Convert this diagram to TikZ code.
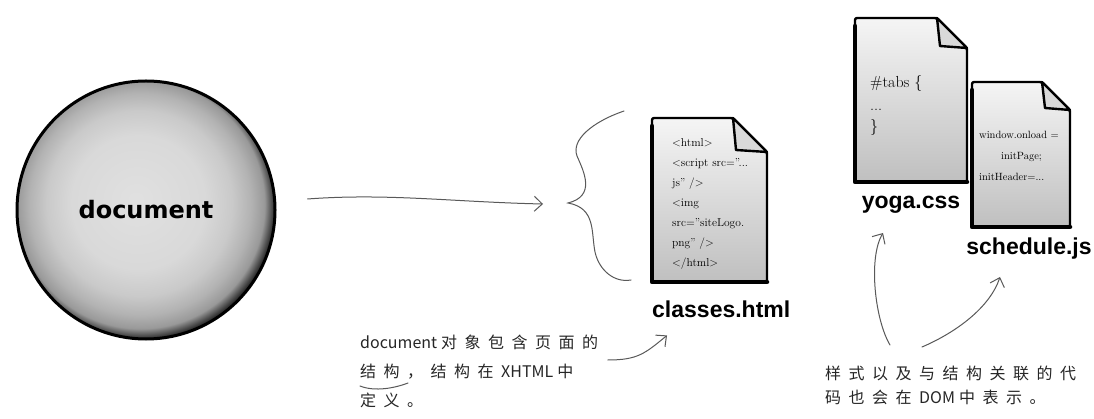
\documentclass[tikz,border=0pt]{standalone}
\usepackage{fontspec}
\usetikzlibrary{positioning,arrows.meta,shapes}
\newfontfamily\labelfont{Liberation Sans}
\newfontfamily\ballfont{DejaVu Sans}
\newfontfamily\hand{Noto Sans CJK SC}

% hand lettering: a fixed gap after every character
\newcommand{\spaced}[1]{\spacedstep#1\relax}
\def\spacedstep#1{\ifx#1\relax\else#1\kern7.5pt\expandafter\spacedstep\fi}

% grey ball, light in the middle and dark at the rim (rim sits at 25bp)
\pgfdeclareradialshading{ballshade}{\pgfpoint{-2bp}{2bp}}{color(0bp)=(gray!24); color(13bp)=(gray!30); color(18bp)=(gray!42); color(21.5bp)=(gray!60); color(24bp)=(gray!80); color(26bp)=(black!85); color(50bp)=(black!85)}

% page outline with dog-ear, #1 = node, #2 = size of the fold
\newcommand{\drawpage}[2]{%
  \path[pagebody] (#1.north west) -- ([xshift=-#2]#1.north east) -- ([yshift=-#2]#1.north east) -- (#1.south east) -- (#1.south west) -- cycle;
  \draw[pageedge] ([yshift=-8pt]#1.north west) -- (#1.south west) -- (#1.south east);
  \draw[pagefold] ([xshift=-#2]#1.north east) -- ([xshift=-#2+3pt,yshift=-#2+2pt]#1.north east) -- ([yshift=-#2]#1.north east) -- cycle;
}

\begin{document}
\begin{tikzpicture}[x=1pt, y=-1pt]
    \tikzset{
        ball/.style = {circle, minimum size=258pt, inner sep=0pt, draw=black, line width=3pt, shade, shading=ballshade, font=\ballfont\bfseries\fontsize{24}{28}\selectfont},
        page/.style = {rectangle, inner sep=0pt, outer sep=0pt},
        pagebody/.style = {draw=black, line width=2.4pt, line join=round, rounded corners=2pt, top color=gray!8, middle color=gray!18, bottom color=gray!50},
        pageedge/.style = {draw=black, line width=4.5pt, line cap=round, line join=round},
        pagefold/.style = {draw=black, line width=2.4pt, line join=round, fill=gray!30},
        code/.style = {align=left, inner sep=0pt, anchor=north west, text=black},
        filename/.style = {font=\labelfont\bfseries\fontsize{23}{26}\selectfont, inner sep=0pt},
        note/.style = {align=left, inner sep=0pt, anchor=north west, text=black!85},
        inkline/.style = {draw=black!65, line width=1pt, line cap=round},
        handarrow/.style = {inkline, -{Straight Barb[length=8pt,width=15pt]}},
    }
    \useasboundingbox[fill=white] (0,0) rectangle (1094,419);

    % the document object
    \node (ball) [ball] at (146,210) {document};

    % files
    \node (html) [page, minimum width=115pt, minimum height=164pt] at (709.5,200) {};
    \node (yoga) [page, minimum width=112pt, minimum height=164pt] at (911,100) {};
    \node (sched) [page, minimum width=98pt, minimum height=145pt] at (1021,154.5) {};
    \drawpage{html}{34pt}
    \drawpage{yoga}{30pt}
    \drawpage{sched}{28pt}

    \node (htmlcode) [code, font=\fontsize{11.5}{20}\selectfont] at ([shift={(20,20)}]html.north west)
        {<html>\\<script src="...\\js" />\\<img\\src="siteLogo.\\png" />\\</html>};
    \node (yogacode) [code, font=\fontsize{16}{27}\selectfont] at ([shift={(15,57)}]yoga.north west)
        {\#tabs \{\\[-4pt]...\\[-6pt]\}};
    \node (schedcode) [code, font=\fontsize{10.5}{21}\selectfont] at ([shift={(7,49)}]sched.north west)
        {window.onload =\\\hspace*{22pt}initPage;\\initHeader=...};

    \node (htmllbl) [filename, anchor=base west] at ([shift={(0,36)}]html.south west) {classes.html};
    \node (yogalbl) [filename, anchor=base] at ([shift={(0,27)}]yoga.south) {yoga.css};
    \node (schedlbl) [filename, anchor=base] at ([shift={(8,28)}]sched.south) {schedule.js};

    % brace around the page
    \coordinate (bracetip) at (568,203);
    \draw [inkline] (624,111) .. controls (592,122) and (571,140) .. (577,156)
        .. controls (584,172) and (596,196) .. (bracetip)
        .. controls (596,208) and (591,232) .. (595,252)
        .. controls (599,270) and (614,283) .. (631,280);
    \draw [handarrow] ([shift={(31,-11)}]ball.east) .. controls +(80,-6) and +(-90,-2) .. ([shift={(-25,1)}]bracetip);

    % notes
    \node (leftnote) [note, font=\hand\fontsize{16}{29}\selectfont] at (360,335)
        {document\kern4pt\spaced{对象包含页面的}\\\spaced{结构，结构在}XHTML\kern4pt\spaced{中}\\\spaced{定义。}};
    \node (rightnote) [note, font=\hand\fontsize{16}{24}\selectfont] at (825,366)
        {\spaced{样式以及与结构关联的代}\\\spaced{码也会在}DOM\kern4pt\spaced{中表示。}};
    \draw [inkline] ([shift={(0,51)}]leftnote.north west) .. controls +(15,6) and +(-13,5) .. ([shift={(48,48)}]leftnote.north west);

    \draw [handarrow] ([shift={(2,25)}]leftnote.north east) .. controls +(30,0) and +(-22,18) .. ([shift={(15,17)}]htmllbl.south west);
    \draw [handarrow] ([shift={(65,-21)}]rightnote.north west) .. controls +(-15,-25) and +(-15,25) .. ([shift={(-28,24)}]yogalbl.base);
    \draw [handarrow] ([shift={(97,-19)}]rightnote.north west) .. controls +(35,-15) and +(-10,30) .. ([shift={(-29,22)}]schedlbl.base);
\end{tikzpicture}
\end{document}
